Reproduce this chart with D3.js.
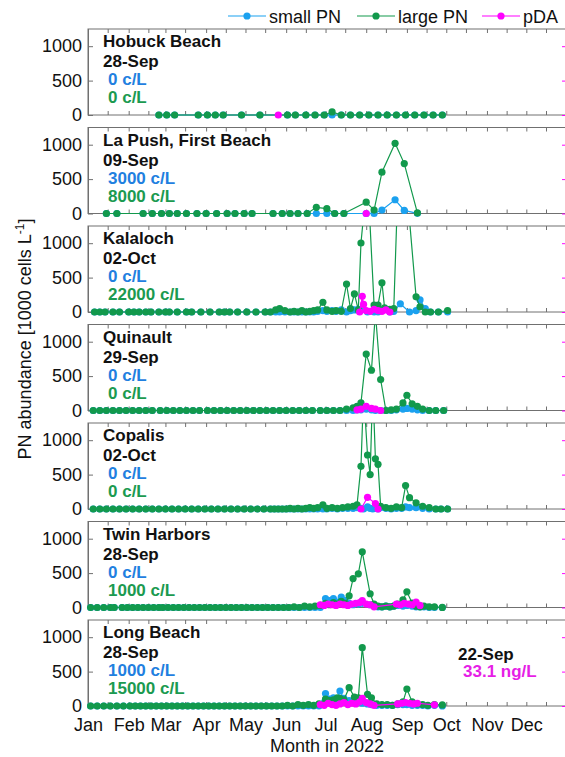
<!DOCTYPE html>
<html>
<head>
<meta charset="utf-8">
<script src="https://cdn.jsdelivr.net/npm/d3@7"></script>
<style>
  body { margin: 0; background: #fff; }
  svg { display: block; font-family: "Liberation Sans", Arial, Helvetica, sans-serif; }
</style>
</head>
<body>
<div id="chart"></div>
<script>
// ---- data (PN in 1000 cells/L, pDA in ng/L) ----
const hobuckDates = ["02-24","03-02","03-08","03-26","04-02","04-08","04-14","04-28","05-12","06-02","06-08","06-16","06-23","06-30","07-06","07-13","07-20","07-27","08-03","08-10","08-17","08-24","08-31","09-07","09-14","09-21","09-28"];
const hobuckSmall = [0,0,0,0,0,0,0,0,0,0,0,0,0,0,0,0,0,0,0,0,0,0,0,0,0,0,0];
const hobuckLarge = [0,0,0,0,0,0,0,0,0,0,0,0,0,0,45,0,0,0,0,0,0,0,0,0,0,0,0];
const hobuckPdaDates = ["05-26"];
const hobuckPda = [0];

const lapushDates = ["01-15","01-23","02-12","02-19","02-26","03-04","03-10","03-17","03-25","04-01","04-09","04-17","04-23","04-30","05-06","05-22","05-29","06-04","06-10","06-17","06-24","07-02","07-08","07-15","08-01","08-07","08-13","08-23","08-30","09-09"];
const lapushSmall = [0,0,0,0,0,0,0,0,0,0,0,0,0,0,0,0,0,0,0,0,0,0,0,0,0,0,50,200,45,3];
const lapushLarge = [0,0,0,0,0,0,0,0,0,0,0,0,0,0,0,0,0,0,0,0,90,70,0,0,165,50,600,1020,725,8];
const lapushPdaDates = ["08-01"];
const lapushPda = [0];

const kalalochDates = ["01-06","01-10","01-14","01-20","01-25","02-01","02-05","02-09","02-14","02-18","02-24","03-01","03-04","03-10","03-17","03-21","03-28","04-04","04-11","04-15","04-19","04-25","05-02","05-09","05-16","05-20","05-24","05-27","05-31","06-04","06-07","06-10","06-13","06-16","06-19","06-22","06-25","06-29","07-02","07-06","07-09","07-13","07-17","07-20","07-23","07-26","07-28","08-02","08-07","08-10","08-13","08-15","08-19","08-22","08-27","09-03","09-08","09-11","09-15","09-19","09-25","10-02"];
const kalalochSmall = [0,0,0,0,0,0,0,0,0,0,0,0,0,0,0,0,0,0,0,0,0,0,0,0,0,0,0,0,0,0,0,0,0,0,0,0,
  10,20,10,20,10,30,0,20,30,40,30,0,0,0,20,40,0,10,120,0,20,175,50,0,0,0];
const kalalochLarge = [0,0,0,0,0,0,0,0,0,0,0,0,0,0,0,0,0,0,0,0,0,0,0,0,0,0,
  30,50,20,0,10,0,20,0,10,20,30,140,30,10,20,10,407,50,262,30,1003,2000,100,100,425,60,40,50,2900,null,220,75,0,0,0,22];
const kalalochPdaDates = ["07-27","07-29","07-30","08-01","08-04","08-07","08-10","08-13","08-16","08-19"];
const kalalochPda = [0,455,220,40,20,80,40,20,60,0];

const quinaultDates = ["01-05","01-10","01-15","01-20","01-25","01-30","02-04","02-09","02-14","02-19","02-25","03-02","03-07","03-12","03-17","03-22","03-27","04-02","04-07","04-12","04-17","04-22","04-27","05-02","05-07","05-12","05-17","05-22","05-27","06-01","06-06","06-11","06-16","06-21","06-27","07-02","07-07","07-12","07-17","07-22","07-25","07-28","08-01","08-05","08-08","08-12","08-16","08-20","08-24","08-29","09-01","09-05","09-09","09-13","09-18","09-23","09-29"];
const quinaultSmall = [0,0,0,0,0,0,0,0,0,0,0,0,0,0,0,0,0,0,0,0,0,0,0,0,0,0,0,0,0,0,0,0,0,0,0,0,0,0,
  0,0,10,10,20,10,0,0,0,0,10,20,30,20,10,0,0,0,0];
const quinaultLarge = [0,0,0,0,0,0,0,0,0,0,0,0,0,0,0,0,0,0,0,0,0,0,0,0,0,0,0,0,0,0,0,0,0,0,0,0,0,0,
  20,40,60,110,820,585,1420,450,0,10,20,110,222,97,60,20,0,0,0];
const quinaultPdaDates = ["07-25","07-28","08-01","08-05","08-08","08-12"];
const quinaultPda = [20,40,120,60,40,0];

const copalisDates = ["01-05","01-10","01-15","01-20","01-25","01-30","02-04","02-09","02-14","02-19","02-24","03-01","03-06","03-11","03-16","03-21","03-26","03-31","04-05","04-10","04-15","04-20","04-25","04-30","05-05","05-10","05-15","05-20","05-23","05-26","05-29","06-01","06-04","06-07","06-10","06-13","06-16","06-19","06-22","06-25","06-29","07-02","07-06","07-10","07-14","07-18","07-22","07-25","07-28","07-30","08-02","08-04","08-06","08-08","08-10","08-12","08-16","08-20","08-24","08-28","08-31","09-03","09-08","09-13","09-18","09-23","09-27","10-02"];
const copalisSmall = [0,0,0,0,0,0,0,0,0,0,0,0,0,0,0,0,0,0,0,0,0,0,0,0,0,0,0,0,0,0,0,0,0,0,0,0,0,0,0,0,0,
  0,10,0,10,10,10,20,10,0,30,10,0,10,0,20,10,0,10,10,30,20,20,10,0,0,0,0];
const copalisLarge = [0,0,0,0,0,0,0,0,0,0,0,0,0,0,0,0,0,0,0,0,0,0,0,0,0,0,0,0,0,0,0,
  0,10,0,10,0,10,20,10,20,60,10,20,10,20,30,40,60,620,1700,785,500,1800,730,650,40,20,10,30,20,340,165,90,40,20,0,0,0];
const copalisPdaDates = ["07-28","08-02","08-08","08-10"];
const copalisPda = [0,340,160,0];

const twinDates = ["01-03","01-08","01-13","01-18","01-21","01-27","01-31","02-04","02-08","02-12","02-16","02-20","02-24","02-27","03-03","03-07","03-11","03-15","03-19","03-23","03-27","03-31","04-04","04-08","04-12","04-16","04-20","04-24","04-28","05-02","05-06","05-10","05-14","05-18","05-22","05-26","05-30","06-03","06-07","06-11","06-15","06-19","06-23","06-27","07-01","07-04","07-07","07-10","07-13","07-16","07-19","07-22","07-26","07-29","08-04","08-07","08-10","08-13","08-16","08-19","08-22","08-25","08-29","09-01","09-05","09-08","09-11","09-14","09-18","09-22","09-28"];
const twinSmall = [0,0,0,0,0,0,0,0,0,0,0,0,0,0,0,0,0,0,0,0,0,0,0,0,0,0,0,0,0,0,0,0,0,0,0,0,0,0,0,0,0,0,0,0,
  130,100,130,80,150,100,60,40,50,60,40,20,10,10,20,10,20,30,20,30,20,10,10,10,0,0,0];
const twinLarge = [0,0,0,0,0,0,0,0,0,0,0,0,0,0,0,0,0,0,0,0,0,0,0,0,0,0,0,0,0,0,0,0,0,0,0,0,0,
  0,10,0,20,10,20,30,60,40,70,50,90,60,170,420,490,810,200,50,20,10,20,10,20,50,110,228,65,20,10,20,10,10,1];
const twinPdaDates = ["06-27","06-30","07-03","07-06","07-09","07-12","07-15","07-18","07-21","07-24","07-27","07-29","08-01","08-04","08-07","08-24","08-27","08-30","09-02","09-05","09-08","09-11"];
const twinPda = [80,60,100,80,60,100,80,60,100,120,140,200,100,80,20,100,80,120,100,80,160,60];

const longDates = ["01-03","01-08","01-13","01-18","01-23","01-28","02-02","02-06","02-10","02-14","02-18","02-22","02-26","03-02","03-06","03-10","03-14","03-18","03-22","03-26","03-30","04-03","04-07","04-11","04-15","04-19","04-23","04-27","05-01","05-05","05-09","05-13","05-17","05-21","05-25","05-29","06-02","06-06","06-10","06-14","06-18","06-22","06-26","07-01","07-04","07-07","07-10","07-12","07-15","07-19","07-23","07-26","07-29","08-02","08-05","08-09","08-13","08-17","08-21","08-25","08-29","09-01","09-05","09-09","09-13","09-17","09-22","09-28"];
const longSmall = [0,0,0,0,0,0,0,0,0,0,0,0,0,0,0,0,0,0,0,0,0,0,0,0,0,0,0,0,0,0,0,0,0,0,0,0,0,0,0,0,0,0,0,
  180,100,120,90,218,110,80,60,50,40,30,20,10,10,10,10,20,20,20,10,10,10,0,10,1];
const longLarge = [0,0,0,0,0,0,0,0,0,0,0,0,0,0,0,0,0,0,0,0,0,0,0,0,0,0,0,0,0,0,0,0,0,0,0,0,
  10,0,20,10,20,10,30,100,80,90,120,110,90,266,130,120,848,170,120,30,20,20,10,30,60,247,60,30,20,10,20,15];
const longPdaDates = ["06-27","06-30","07-03","07-06","07-09","07-12","07-15","07-18","07-21","07-24","07-27","07-29","08-01","08-04","08-07","08-25","08-28","08-31","09-03","09-06","09-09","09-22"];
const longPda = [40,20,80,40,20,60,100,40,80,60,120,220,100,60,20,60,80,100,80,60,80,33.1];

const siteNames = ["Hobuck Beach","La Push, First Beach","Kalaloch","Quinault","Copalis","Twin Harbors","Long Beach"];
const lastDates = ["28-Sep","09-Sep","02-Oct","29-Sep","02-Oct","28-Sep","28-Sep"];
const smallNotes = ["0 c/L","3000 c/L","0 c/L","0 c/L","0 c/L","0 c/L","1000 c/L"];
const largeNotes = ["0 c/L","8000 c/L","22000 c/L","0 c/L","0 c/L","1000 c/L","15000 c/L"];
const yTicks = [0, 500, 1000];
const pdaTicks = [0, 1000, 2000];
const legendLabels = ["small PN","large PN","pDA"];

// ---- layout ----
const width = 565, height = 757;
const left = 88, right = 567;
const panelTop = 29, panelStep = 98.5, panelH = 86;
const col = { small: "#1ba1ef", large: "#12994c", pda: "#ff00ff" };
const txtCol = { small: "#1f80e0", large: "#1b9a50", pda: "#e61ee6" };
const axisCol = "#707070";

const parse = d3.timeParse("%Y-%m-%d");
const day = s => parse("2022-" + s);

const sites = [
  [hobuckDates, hobuckSmall, hobuckLarge, hobuckPdaDates, hobuckPda],
  [lapushDates, lapushSmall, lapushLarge, lapushPdaDates, lapushPda],
  [kalalochDates, kalalochSmall, kalalochLarge, kalalochPdaDates, kalalochPda],
  [quinaultDates, quinaultSmall, quinaultLarge, quinaultPdaDates, quinaultPda],
  [copalisDates, copalisSmall, copalisLarge, copalisPdaDates, copalisPda],
  [twinDates, twinSmall, twinLarge, twinPdaDates, twinPda],
  [longDates, longSmall, longLarge, longPdaDates, longPda]
].map((s, i) => ({
  name: siteNames[i],
  small: s[0].map((d, j) => ({ date: day(d), v: s[1][j] })),
  large: s[0].map((d, j) => ({ date: day(d), v: s[2][j] })),
  pda: s[3].map((d, j) => ({ date: day(d), v: s[4][j] }))
}));

const svg = d3.select("#chart").append("svg")
  .attr("width", width)
  .attr("height", height);

const x = d3.scaleTime()
  .domain([parse("2022-01-01"), parse("2023-01-01")])
  .range([left, right]);

// month starts + mid month minor ticks
const months = d3.timeMonths(parse("2022-01-01"), parse("2023-01-01"));
const xTicks = months.flatMap(m => [m, d3.timeDay.offset(m, 15)]);

sites.forEach((site, i) => {
  const top = panelTop + i * panelStep;
  const bottom = top + panelH;
  const y = d3.scaleLinear().domain([0, 1250]).range([bottom, top]);
  const yR = d3.scaleLinear().domain([0, 2500]).range([bottom, top]);

  const g = svg.append("g");

  g.append("clipPath").attr("id", "clip" + i)
    .append("rect")
    .attr("x", left - 6).attr("y", top)
    .attr("width", right - left + 12).attr("height", panelH + 8);

  // frame
  g.append("rect")
    .attr("x", left).attr("y", top)
    .attr("width", right - left).attr("height", panelH)
    .attr("fill", "none").attr("stroke", axisCol).attr("stroke-width", 1);

  // x ticks (top and bottom, inward)
  const xt = g.append("g").attr("transform", `translate(0,${top})`)
    .call(d3.axisTop(x).tickValues(xTicks).tickSize(-4).tickFormat(""));
  const xb = g.append("g").attr("transform", `translate(0,${bottom})`)
    .call(d3.axisBottom(x).tickValues(xTicks).tickSize(-4).tickFormat(""));
  [xt, xb].forEach(a => {
    a.select(".domain").remove();
    a.selectAll(".tick line").attr("stroke", axisCol);
  });

  // left axis
  const ya = g.append("g").attr("transform", `translate(${left},0)`)
    .call(d3.axisLeft(y).tickValues(yTicks).tickSize(-5).tickPadding(6)
      .tickSizeOuter(0).tickFormat(d3.format("d")));
  ya.select(".domain").attr("stroke", axisCol);
  ya.selectAll(".tick line").attr("stroke", axisCol);
  ya.selectAll(".tick text").attr("font-size", 18).attr("fill", "#111")
    .attr("font-family", "'Liberation Sans', Arial, sans-serif");

  // right pDA axis (magenta ticks)
  const yra = g.append("g").attr("transform", `translate(${right},0)`)
    .call(d3.axisRight(yR).tickValues(pdaTicks).tickSize(-5).tickFormat("").tickSizeOuter(0));
  yra.select(".domain").attr("stroke", axisCol);
  yra.selectAll(".tick line").attr("stroke", col.pda);

  // series
  const plot = g.append("g").attr("clip-path", `url(#clip${i})`);
  const series = [
    { key: "small", data: site.small, ys: y },
    { key: "large", data: site.large, ys: y },
    { key: "pda", data: site.pda, ys: yR }
  ];
  series.forEach(s => {
    const pts = s.data.filter(d => d.v != null && !isNaN(d.v));
    const line = d3.line().x(d => x(d.date)).y(d => s.ys(d.v));
    plot.append("path")
      .datum(pts)
      .attr("d", line)
      .attr("fill", "none")
      .attr("stroke", col[s.key])
      .attr("stroke-width", 1.2);
    plot.selectAll("circle." + s.key)
      .data(pts)
      .join("circle")
      .attr("class", s.key)
      .attr("cx", d => x(d.date))
      .attr("cy", d => s.ys(d.v))
      .attr("r", 3.6)
      .attr("fill", col[s.key]);
  });

  // annotations
  const note = g.append("g").attr("font-weight", "bold").attr("font-size", 17);
  note.append("text").attr("x", 103).attr("y", top + 18).attr("fill", "#111").text(site.name);
  note.append("text").attr("x", 103).attr("y", top + 38).attr("fill", "#111").text(lastDates[i]);
  note.append("text").attr("x", 108).attr("y", top + 56).attr("fill", txtCol.small).text(smallNotes[i]);
  note.append("text").attr("x", 108).attr("y", top + 74).attr("fill", txtCol.large).text(largeNotes[i]);

  if (i === sites.length - 1) {
    const last = site.pda[site.pda.length - 1];
    note.append("text").attr("x", 458).attr("y", top + 40).attr("fill", "#111")
      .text(d3.timeFormat("%d-%b")(last.date));
    note.append("text").attr("x", 463).attr("y", top + 57).attr("fill", txtCol.pda)
      .text(last.v + " ng/L");

    // month labels
    const mx = g.append("g").attr("transform", `translate(0,${bottom})`)
      .call(d3.axisBottom(x).tickValues(months).tickSize(0).tickPadding(12).tickFormat(d3.timeFormat("%b")));
    mx.select(".domain").remove();
    mx.selectAll(".tick text").attr("font-size", 18).attr("fill", "#111")
      .attr("font-family", "'Liberation Sans', Arial, sans-serif");
  }
});

// axis titles
svg.append("text")
  .attr("x", 327).attr("y", 752)
  .attr("text-anchor", "middle")
  .attr("font-size", 18).attr("fill", "#111")
  .text("Month in 2022");

const yl = svg.append("text")
  .attr("transform", "translate(31,339) rotate(-90)")
  .attr("text-anchor", "middle")
  .attr("font-size", 18).attr("fill", "#111");
yl.append("tspan").text("PN abundance [1000 cells L");
yl.append("tspan").attr("dy", -7).attr("font-size", 12).text("-1");
yl.append("tspan").attr("dy", 7).text("]");

// legend
const legX = [228, 357, 482];
const legKeys = ["small", "large", "pda"];
const leg = svg.append("g");
legKeys.forEach((k, j) => {
  const lg = leg.append("g").attr("transform", `translate(${legX[j]},0)`);
  lg.append("line").attr("x1", 0).attr("x2", 38).attr("y1", 16).attr("y2", 16)
    .attr("stroke", col[k]).attr("stroke-width", 1.2);
  lg.append("circle").attr("cx", 19).attr("cy", 16).attr("r", 3.6).attr("fill", col[k]);
  lg.append("text").attr("x", 41).attr("y", 23).attr("font-size", 18).attr("fill", "#111")
    .text(legendLabels[j]);
});
</script>
</body>
</html>
